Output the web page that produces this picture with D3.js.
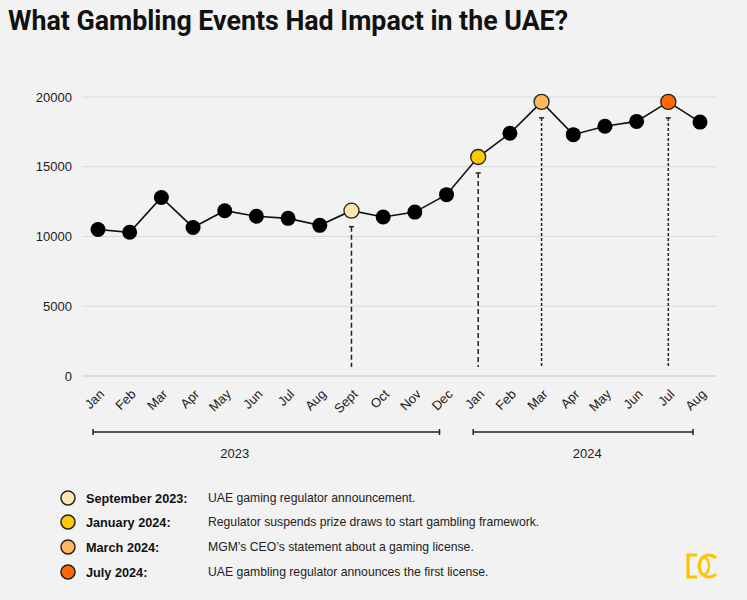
<!doctype html>
<html>
<head>
<meta charset="utf-8">
<script src="https://d3js.org/d3.v7.min.js"></script>
<style>
  body { margin: 0; background: #f2f2f2; }
  svg { display: block; }
</style>
</head>
<body>
<script>
// ---- data ----
var months = ["Jan","Feb","Mar","Apr","May","Jun","Jul","Aug","Sept","Oct","Nov","Dec",
              "Jan","Feb","Mar","Apr","May","Jun","Jul","Aug"];
var values = [10500,10300,12800,10650,11850,11450,11300,10800,11850,11400,11750,13000,
              15700,17400,19650,17300,17900,18250,19650,18200];
var yTicks = [0,5000,10000,15000,20000];

var yearLabels = ["2023","2024"];
var yearFirst = [0,12];
var yearLast = [11,19];

var eventIndex = [8,12,14,18];
var eventLabels = ["September 2023:","January 2024:","March 2024:","July 2024:"];
var eventTexts = ["UAE gaming regulator announcement.",
                  "Regulator suspends prize draws to start gambling framework.",
                  "MGM\u2019s CEO\u2019s statement about a gaming license.",
                  "UAE gambling regulator announces the first license."];
var eventColors = ["#fee6b4","#ffc709","#ffb95a","#ff6a00"];
var dashStyles = ["5,3","5,3","3,2","3,2"];

// ---- layout ----
var W = 747, H = 600;
var font = "'Liberation Sans', Arial, sans-serif";

var svg = d3.select("body").append("svg").attr("width", W).attr("height", H);
svg.append("rect").attr("width", W).attr("height", H).attr("fill", "#f2f2f2");

// title
svg.append("text")
  .attr("x", 8).attr("y", 30)
  .attr("font-family", "Roboto, sans-serif")
  .attr("font-weight", 700)
  .attr("font-size", 28)
  .attr("textLength", 560)
  .attr("lengthAdjust", "spacingAndGlyphs")
  .attr("fill", "#111")
  .text("What Gambling Events Had Impact in the UAE?");

var x = d3.scalePoint().domain(d3.range(months.length)).range([98, 700]);
var y = d3.scaleLinear().domain([0, 20000]).range([376, 97]);

// grid
svg.append("g").selectAll("line").data(yTicks).enter().append("line")
  .attr("x1", 82).attr("x2", 716)
  .attr("y1", function(d){ return y(d); }).attr("y2", function(d){ return y(d); })
  .attr("stroke", function(d){ return d == 0 ? "#c8c8c8" : "#dadada"; })
  .attr("stroke-width", 1);

svg.append("g").selectAll("text").data(yTicks).enter().append("text")
  .attr("x", 72).attr("y", function(d){ return y(d); })
  .attr("dy", "0.35em")
  .attr("text-anchor", "end")
  .attr("font-family", font).attr("font-size", 13).attr("fill", "#222")
  .text(function(d){ return d; });

// month labels
svg.append("g").selectAll("text").data(months).enter().append("text")
  .attr("transform", function(d, i){ return "translate(" + (x(i) + 7) + ",395) rotate(-45)"; })
  .attr("text-anchor", "end")
  .attr("font-family", font).attr("font-size", 13).attr("fill", "#222")
  .text(function(d){ return d; });

// year brackets
var yr = svg.append("g").attr("stroke", "#222").attr("stroke-width", 1.5);
yearLabels.forEach(function(lab, k){
  var x0 = x(yearFirst[k]) - 5, x1 = x(yearLast[k]) - 7;
  yr.append("line").attr("x1", x0).attr("x2", x1).attr("y1", 432).attr("y2", 432);
  yr.append("line").attr("x1", x0).attr("x2", x0).attr("y1", 429).attr("y2", 435);
  yr.append("line").attr("x1", x1).attr("x2", x1).attr("y1", 429).attr("y2", 435);
  svg.append("text")
    .attr("x", k == 0 ? x(4) + 10 : x(15) + 14).attr("y", 458)
    .attr("text-anchor", "middle")
    .attr("font-family", font).attr("font-size", 13).attr("fill", "#222")
    .text(lab);
});

// drop lines for events
var drops = svg.append("g");
eventIndex.forEach(function(idx, k){
  var top = y(values[idx]) + 16;
  drops.append("line")
    .attr("x1", x(idx)).attr("x2", x(idx))
    .attr("y1", top).attr("y2", y(0) - 9)
    .attr("stroke", "#222").attr("stroke-width", 1.5)
    .attr("stroke-dasharray", dashStyles[k]);
  drops.append("line")
    .attr("x1", x(idx) - 2.5).attr("x2", x(idx) + 2.5)
    .attr("y1", top).attr("y2", top)
    .attr("stroke", "#222").attr("stroke-width", 1.5);
});

// line
var line = d3.line()
  .x(function(d, i){ return x(i); })
  .y(function(d){ return y(d); });

svg.append("path")
  .attr("d", line(values))
  .attr("fill", "none").attr("stroke", "#111").attr("stroke-width", 1.6);

// points
svg.append("g").selectAll("circle").data(values).enter().append("circle")
  .attr("cx", function(d, i){ return x(i); })
  .attr("cy", function(d){ return y(d); })
  .attr("r", 7.5)
  .attr("fill", function(d, i){
    var k = eventIndex.indexOf(i);
    return k < 0 ? "#000" : eventColors[k];
  })
  .attr("stroke", "#222")
  .attr("stroke-width", function(d, i){ return eventIndex.indexOf(i) < 0 ? 0 : 1.3; });

// legend
var rowY = [498, 522, 547, 572];
var lg = svg.append("g");
eventLabels.forEach(function(lab, k){
  lg.append("circle").attr("cx", 68).attr("cy", rowY[k]).attr("r", 7)
    .attr("fill", eventColors[k]).attr("stroke", "#222").attr("stroke-width", 1.5);
  lg.append("text").attr("x", 86).attr("y", rowY[k]).attr("dy", "0.36em")
    .attr("font-family", font).attr("font-weight", "bold").attr("font-size", 12.7)
    .attr("fill", "#111").text(lab);
  lg.append("text").attr("x", 208).attr("y", rowY[k]).attr("dy", "0.36em")
    .attr("font-family", font).attr("font-size", 12.2)
    .attr("fill", "#222").text(eventTexts[k]);
});

// logo
var logo = svg.append("g").attr("fill", "none").attr("stroke", "#ffc400").attr("stroke-width", 3.2);
logo.append("path").attr("d", "M697,555 L688,555 L688,577 L697,577");
logo.append("path").attr("d", "M716,558 A10,11 0 1 0 716,574");
logo.append("path").attr("d", "M703,557 A6,9 0 0 1 703,575").attr("stroke-width", 2.4);
</script>
</body>
</html>
